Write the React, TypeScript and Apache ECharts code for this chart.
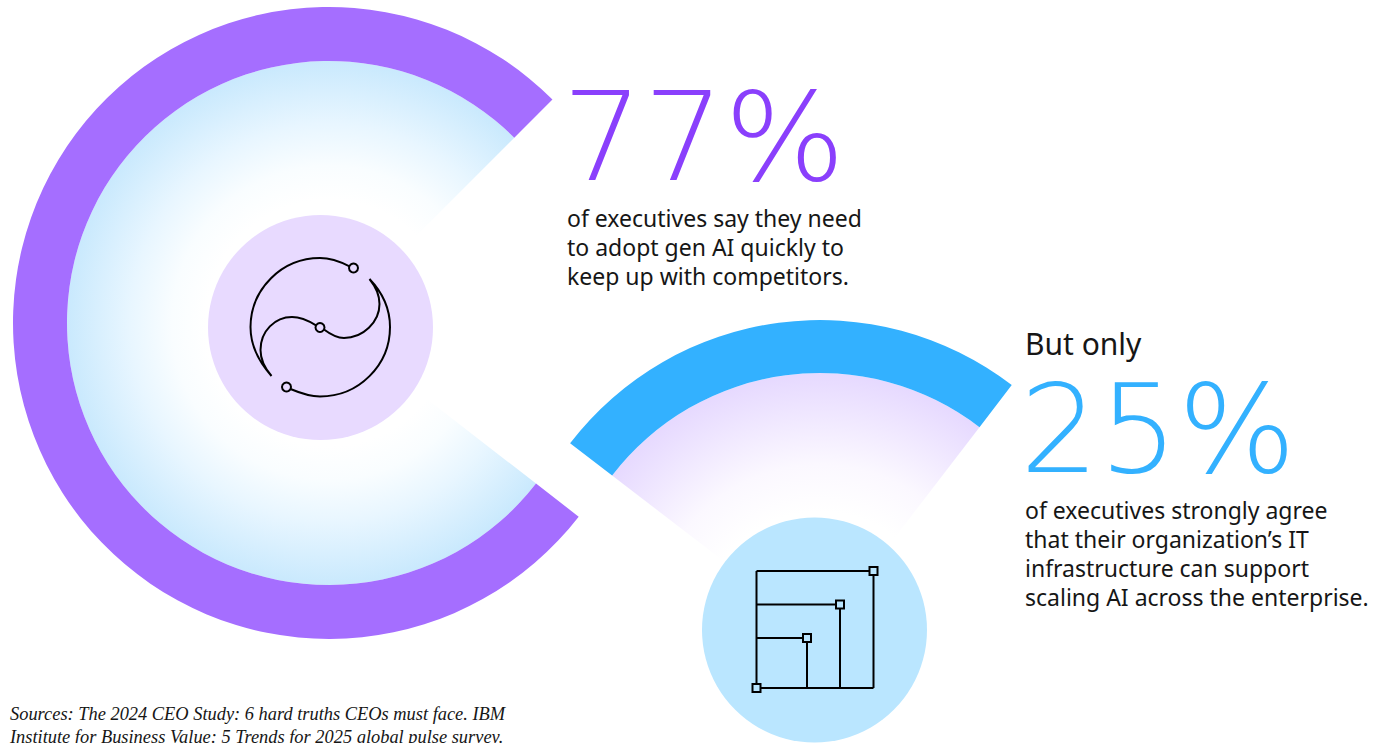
import React, { useEffect, useRef } from "react";
import * as echarts from "echarts";

const execNeedQuick = [77, 23];
const execStrongAgree = [25, 75];
const bigNumbers = ["77%", "25%"];
const copyOne = [
  "of executives say they need",
  "to adopt gen AI quickly to",
  "keep up with competitors.",
];
const lead = "But only";
const copyTwo = [
  "of executives strongly agree",
  "that their organization’s IT",
  "infrastructure can support",
  "scaling AI across the enterprise.",
];
const sources = [
  "Sources: The 2024 CEO Study: 6 hard truths CEOs must face. IBM",
  "Institute for Business Value: 5 Trends for 2025 global pulse survey.",
];

const yinYang =
  "M349.5 266.3 C340 261.5 330 258 320 258 A69.5 69.5 0 0 0 250.5 327 C250.5 346 259 362 271.5 376 C263 366 260.5 358 260.5 350 C260.5 331 275 317 292 317 C301 317 309 321 316 325.3 " +
  "M324 329.5 C330 334 336 338 344 338 C363 338 379.5 322 379.5 304 C379.5 295 376 287 369.5 279 C382 292 390 309 390 327 A70 69.5 0 0 1 320 396.5 C309 396.5 300 393 290.5 389";

const BODY = '"Noto Sans", sans-serif';

function ring(center: number[], values: number[], start: number, clockwise: boolean, color: string, stops: any[], inner: number, outer: number) {
  const blank = "rgba(255,255,255,0)";
  const toPie = (fill: any) =>
    values.map((value, i) => ({ value, itemStyle: { color: i === 0 ? fill : blank } }));
  const base = {
    type: "pie" as const,
    center,
    startAngle: start,
    clockwise,
    silent: true,
    label: { show: false },
    labelLine: { show: false },
    emphasis: { disabled: true },
  };
  return [
    {
      ...base,
      radius: [0, inner],
      data: toPie({
        type: "radial",
        x: center[0],
        y: center[1],
        r: inner,
        global: true,
        colorStops: stops,
      }),
    },
    { ...base, radius: [inner, outer], data: toPie(color) },
  ];
}

export default function App() {
  const ref = useRef<HTMLDivElement>(null);
  useEffect(() => {
    echarts.graphic.registerShape("yinyang", echarts.graphic.extendPath(yinYang, {}));
    const chart = echarts.init(ref.current!, null, { renderer: "svg" });
    const txt = (x: number, base: number, text: string, font: any, scaleX = 1) => ({
      type: "text",
      x,
      y: base - 0.885 * font.fontSize,
      scaleX,
      z: 10,
      style: { text, ...font },
    });
    const body = { fontFamily: BODY, fontSize: 23, fill: "#161616" };
    const big = { fontFamily: '"DejaVu Sans", sans-serif', fontWeight: 200, fontSize: 123 };
    const src = { fontFamily: '"Liberation Serif", serif', fontStyle: "italic", fontSize: 18.4, fill: "#161616" };
    const stroke = { stroke: "#000000", lineWidth: 2, fill: "none" };
    const line = (x1: number, y1: number, x2: number, y2: number) => ({
      type: "line",
      z: 11,
      shape: { x1, y1, x2, y2 },
      style: stroke,
    });
    const dot = (cx: number, cy: number) => ({
      type: "circle",
      z: 12,
      shape: { cx, cy, r: 4.5 },
      style: { stroke: "#000000", lineWidth: 2, fill: "#e8daff" },
    });
    const sq = (cx: number, cy: number) => ({
      type: "rect",
      z: 12,
      shape: { x: cx - 4, y: cy - 4, width: 8, height: 8 },
      style: { stroke: "#000000", lineWidth: 2, fill: "#bae6ff" },
    });
    chart.setOption({
      animation: false,
      backgroundColor: "#ffffff",
      series: [
        ...ring([329, 323], execNeedQuick, 45, false, "#a56eff", [
          { offset: 0, color: "#ffffff" },
          { offset: 0.47, color: "#ffffff" },
          { offset: 0.6, color: "#f9fdff" },
          { offset: 0.76, color: "#e8f6ff" },
          { offset: 1, color: "#c9e9fd" },
        ], 262, 316),
        ...ring([820, 635], execStrongAgree, 142.5, true, "#33b1ff", [
          { offset: 0, color: "#ffffff" },
          { offset: 0.47, color: "#ffffff" },
          { offset: 0.65, color: "#fbf8ff" },
          { offset: 1, color: "#e6d9ff" },
        ], 262, 315),
      ],
      graphic: [
        { type: "circle", z: 9, shape: { cx: 320.5, cy: 327.5, r: 112.5 }, style: { fill: "#e8daff" } },
        { type: "circle", z: 9, shape: { cx: 814.5, cy: 630, r: 112.5 }, style: { fill: "#bae6ff" } },
        { type: "yinyang", z: 11, x: 0, y: 0, style: stroke },
        dot(353.5, 268),
        dot(320, 327.5),
        dot(286.5, 387),
        line(756.5, 571, 756.5, 688),
        line(756.5, 571, 873.5, 571),
        line(756.5, 604.5, 840, 604.5),
        line(756.5, 638, 807, 638),
        line(756.5, 688, 873.5, 688),
        line(807, 638, 807, 688),
        line(840, 604.5, 840, 688),
        line(873.5, 571, 873.5, 688),
        sq(873.5, 571),
        sq(840, 604.5),
        sq(807, 638),
        sq(756.5, 688),
        txt(562, 185, bigNumbers[0], { ...big, fill: "#8a3ffc" }, 1.037),
        ...copyOne.map((t, i) => txt(567, 227 + i * 29, t, body)),
        txt(1025, 355.5, lead, { ...body, fontSize: 30 }),
        txt(1020, 477, bigNumbers[1], { ...big, fill: "#33b1ff" }, 1.01),
        ...copyTwo.map((t, i) => txt(1025, 518.5 + i * 29, t, body)),
        ...sources.map((t, i) => txt(10, 721 + i * 23, t, src)),
      ],
    });
    return () => chart.dispose();
  }, []);
  return (
    <div
      ref={ref}
      style={{ position: "absolute", left: 0, top: 0, width: 1388, height: 743, overflow: "hidden" }}
    />
  );
}
